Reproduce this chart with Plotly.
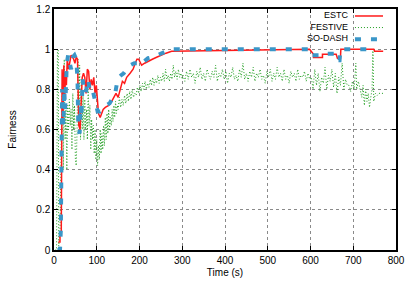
import plotly.graph_objects as go

# ---------------- data ----------------
estc_t = [10, 14, 14, 17, 18, 19, 21, 23, 25, 27, 29, 31, 34, 37, 40, 43, 46, 49, 52, 55, 58,
          61, 63, 66, 69, 72, 75, 78, 81, 84, 87, 90, 93, 96, 99, 101, 104, 108, 115, 120, 128,
          135, 140, 145, 150, 155, 160, 165, 170, 178, 185, 190, 194, 198, 205, 212, 220, 230,
          240, 250, 262, 275, 595, 598, 607, 607, 628, 628, 660, 663, 670, 671, 748, 750, 770]
estc_y = [0.04, 0.04, 0.09, 0.09, 0.5, 0.9, 0.65, 0.92, 0.75, 0.88, 0.82, 0.95, 0.9, 0.93, 0.97,
          0.96, 0.95, 0.93, 0.96, 0.95, 0.62, 0.6, 0.75, 0.86, 0.88, 0.86, 0.78, 0.9, 0.89, 0.8,
          0.85, 0.82, 0.86, 0.78, 0.82, 0.75, 0.68, 0.66, 0.7, 0.71, 0.72, 0.74, 0.76, 0.78, 0.76,
          0.8, 0.84, 0.83, 0.86, 0.88, 0.9, 0.93, 0.95, 0.95, 0.92, 0.93, 0.94, 0.95, 0.96, 0.97,
          0.98, 0.99, 1.0, 1.0, 0.975, 0.958, 0.958, 0.975, 0.975, 0.955, 0.955, 1.0, 1.0,
          0.99, 0.99]

sodash_t = [8, 14, 16, 17, 18, 19, 22, 24, 26, 28, 30, 33, 36, 40, 44, 48, 52, 55, 57, 60, 62,
            64, 67, 70, 74, 77, 80, 83, 86, 90, 94, 98, 102, 108, 115, 122, 130, 138, 144, 148,
            152, 157, 163, 170, 178, 188, 195, 200, 210, 220, 230, 245, 260, 275, 598, 600, 630,
            632, 660, 663, 668, 670, 748]
sodash_y = [0.0, 0.0, 0.1, 0.3, 0.55, 0.8, 0.62, 0.8, 0.7, 0.88, 0.93, 0.97, 0.93, 0.9, 0.96,
            0.97, 0.95, 0.85, 0.6, 0.58, 0.72, 0.66, 0.85, 0.8, 0.78, 0.82, 0.85, 0.8, 0.79, 0.8,
            0.76, 0.71, 0.69, 0.69, 0.7, 0.72, 0.73, 0.76, 0.79, 0.84, 0.86, 0.87, 0.88, 0.9,
            0.92, 0.93, 0.93, 0.92, 0.94, 0.955, 0.96, 0.975, 0.985, 1.0, 1.0, 0.97, 0.97, 0.977,
            0.977, 0.945, 0.945, 1.0, 1.0]

festive_t = [3, 6, 8, 10, 11, 14, 17, 20, 22, 24, 26, 28, 30, 32, 34, 36, 38, 40, 42, 44, 46,
             48, 50, 52, 54, 56, 58, 60, 62, 64, 66, 68, 70, 72, 74, 76, 78, 80, 82, 84, 86, 88,
             90, 92, 94, 96, 98, 100, 102, 104, 106, 108, 110, 112, 114, 116, 118, 120, 122, 124,
             126, 128, 130, 132, 134, 136, 138, 140, 142, 144, 146, 148, 150, 153, 156, 159, 162,
             165, 168, 171, 174, 177, 180, 183, 186, 189, 192, 195, 198, 201, 204, 207, 210, 213,
             216, 219, 222, 225, 228, 231, 234, 237, 240, 243, 246, 249, 252, 255, 258, 261, 264,
             267, 270, 273, 276, 279, 282, 285, 288, 291, 294, 297, 300,
             302, 306, 310, 314, 318, 322, 326, 330, 334, 338, 342, 346, 350, 354, 358, 362, 366,
             370, 374, 378, 382, 386, 390, 394, 398, 402, 406, 410, 414, 418, 422, 426, 430, 434,
             438, 442, 446, 450, 454, 458, 462, 466, 470, 474, 478, 482, 486, 490, 494, 498, 502,
             506, 510, 514, 518, 522, 526, 530, 534, 538, 542, 546, 550, 554, 558, 562, 566, 570,
             574, 578, 582, 586, 590, 594, 598,
             602, 606, 610, 614, 618, 622, 626, 630, 634, 638, 642, 646, 650, 654, 658, 662, 666,
             670, 674, 678, 682, 686,
             690, 694, 698, 702, 706, 708, 712, 716, 720, 723, 726, 729, 732, 735, 738, 741, 744,
             746, 748, 752, 756, 760, 766, 772]
festive_y = [0.0, 0.0, 1.0, 1.0, 0.02, 0.08, 0.55, 0.85, 0.4, 0.95, 0.55, 0.7, 0.4, 0.72, 0.6,
             0.75, 0.62, 0.7, 0.5, 0.78, 0.6, 0.72, 0.45, 0.42, 0.6, 0.95, 0.62, 0.92, 0.55, 0.85,
             0.6, 0.78, 0.55, 0.75, 0.6, 0.7, 0.55, 0.8, 0.62, 0.72, 0.5, 0.65, 0.55, 0.62, 0.48,
             0.6, 0.45, 0.55, 0.42, 0.52, 0.45, 0.6, 0.48, 0.58, 0.5, 0.62, 0.52, 0.66, 0.55, 0.68,
             0.58, 0.7, 0.6, 0.66, 0.62, 0.7, 0.64, 0.72, 0.66, 0.74, 0.68, 0.72, 0.7, 0.76, 0.71,
             0.75, 0.72, 0.77, 0.73, 0.78, 0.74, 0.79, 0.75, 0.8, 0.76, 0.78, 0.77, 0.81, 0.78,
             0.82, 0.79, 0.83, 0.8, 0.84, 0.8, 0.83, 0.81, 0.85, 0.82, 0.86, 0.82, 0.85, 0.83,
             0.87, 0.83, 0.86, 0.84, 0.88, 0.84, 0.9, 0.85, 0.87, 0.84, 0.88, 0.85, 0.92, 0.86,
             0.89, 0.85, 0.9, 0.86, 0.88, 0.85,
             0.87, 0.84, 0.89, 0.85, 0.9, 0.86, 0.88, 0.83, 0.89, 0.86, 0.91, 0.85, 0.88, 0.84,
             0.9, 0.87, 0.85, 0.89, 0.86, 0.92, 0.84, 0.88, 0.86, 0.9, 0.85, 0.89, 0.83, 0.88,
             0.86, 0.91, 0.85, 0.87, 0.84, 0.9, 0.86, 0.93, 0.85, 0.88, 0.84, 0.89, 0.86, 0.91,
             0.84, 0.88, 0.86, 0.9, 0.85, 0.87, 0.83, 0.89, 0.86, 0.9, 0.84, 0.88, 0.85, 0.91,
             0.86, 0.88, 0.84, 0.9, 0.85, 0.87, 0.83, 0.89, 0.86, 0.88, 0.84, 0.9, 0.85, 0.87,
             0.86, 0.89, 0.84, 0.88, 0.85,
             0.86, 0.8, 0.9, 0.82, 0.88, 0.79, 0.86, 0.83, 0.91, 0.8, 0.87, 0.84, 0.9, 0.81, 0.88,
             0.78, 0.86, 0.82, 0.93, 0.8, 0.85, 0.82,
             0.82, 0.79, 0.84, 0.8, 0.93, 0.8, 0.84, 0.79, 0.76, 0.82, 0.72, 0.8, 0.74, 0.78, 0.71,
             0.76, 0.8, 1.0, 0.74, 0.78, 0.77, 0.78, 0.78, 0.78]

x_ticks = [0, 100, 200, 300, 400, 500, 600, 700, 800]
y_ticks = [0, 0.2, 0.4, 0.6, 0.8, 1, 1.2]
series_names = ["ESTC", "FESTIVE", "SO-DASH"]
colors = ["#ff1a1a", "#1f9e1f", "#3a96c8"]

FONT = "Liberation Sans, Arial, sans-serif"

fig = go.Figure()
fig.add_trace(go.Scatter(x=festive_t, y=festive_y, mode="lines", name=series_names[1],
                         line=dict(color=colors[1], width=1, dash="1px,2px")))
fig.add_trace(go.Scatter(x=estc_t, y=estc_y, mode="lines", name=series_names[0],
                         line=dict(color=colors[0], width=1.5)))
fig.add_trace(go.Scatter(x=sodash_t, y=sodash_y, mode="lines", name=series_names[2],
                         line=dict(color=colors[2], width=4, dash="6px,10px")))

axis_common = dict(showline=True, linecolor="black", linewidth=1.5, mirror="ticks",
                   ticks="inside", ticklen=4, tickcolor="black", tickwidth=1,
                   showgrid=True, gridcolor="#8a8a8a", griddash="dot", gridwidth=1,
                   zeroline=False, automargin=False,
                   tickfont=dict(family=FONT, size=10, color="black"))

fig.update_xaxes(range=[0, 800], tickvals=x_ticks, **axis_common,
                 title=dict(text="Time (s)", font=dict(family=FONT, size=10, color="black"),
                            standoff=4))
fig.update_yaxes(range=[0, 1.2], tickvals=y_ticks, **axis_common,
                 title=dict(text="Fairness", font=dict(family=FONT, size=10, color="black"),
                            standoff=18))

# gnuplot-style legend: right-aligned text with line sample on the right
fig.add_annotation(x=0.866, y=1.0, xref="paper", yref="paper",
                   text="<br>".join(series_names), align="right",
                   showarrow=False, xanchor="right", yanchor="top", borderpad=0,
                   font=dict(family=FONT, size=9, color="black"))
rows_y = [0.971, 0.923, 0.875]
dashes = ["solid", "1px,2px", "6px,10px"]
widths = [1.5, 1, 4]
for col, yy, dsh, w in zip(colors, rows_y, dashes, widths):
    fig.add_shape(type="line", xref="paper", yref="paper", x0=0.88, x1=0.962, y0=yy, y1=yy,
                  line=dict(color=col, width=w, dash=dsh))

fig.update_layout(width=406, height=284, showlegend=False,
                  margin=dict(l=54, r=10, t=9, b=34),
                  plot_bgcolor="white", paper_bgcolor="white")

fig.write_html("out.html", config={"displayModeBar": False})

# remove the browser's default page margin so the figure sits at the window origin
with open("out.html", "r", encoding="utf-8") as fh:
    html = fh.read()
html = html.replace("<head>", "<head><style>html,body{margin:0;padding:0;}</style>", 1)
with open("out.html", "w", encoding="utf-8") as fh:
    fh.write(html)
